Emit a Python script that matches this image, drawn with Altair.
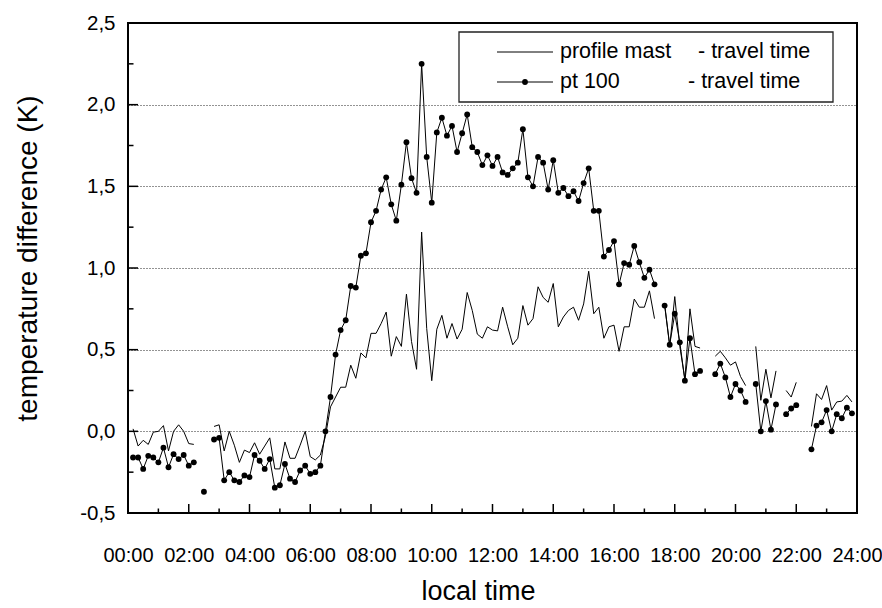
import altair as alt
import pandas as pd

# 10-minute samples, index 1..143 (minutes = index * 10); None marks a gap
pt100 = [
    -0.16, -0.16, -0.23, -0.15, -0.16, -0.19, -0.10, -0.22, -0.14, -0.17,
    -0.145, -0.21, -0.19, None, -0.37, None, -0.05, -0.04, -0.30, -0.25,
    -0.30, -0.31, -0.27, -0.28, -0.145, -0.18, -0.23, -0.17, -0.345, -0.33,
    -0.20, -0.29, -0.31, -0.24, -0.21, -0.26, -0.25, -0.21, 0.00, 0.21,
    0.47, 0.62, 0.68, 0.89, 0.88, 1.075, 1.09, 1.28, 1.35, 1.48,
    1.555, 1.39, 1.29, 1.51, 1.77, 1.55, 1.46, 2.25, 1.68, 1.40,
    1.83, 1.92, 1.81, 1.87, 1.71, 1.825, 1.94, 1.74, 1.71, 1.63,
    1.69, 1.625, 1.68, 1.585, 1.57, 1.61, 1.645, 1.85, 1.555, 1.50,
    1.68, 1.645, 1.48, 1.66, 1.46, 1.49, 1.44, 1.47, 1.41, 1.52,
    1.61, 1.35, 1.35, 1.07, 1.11, 1.165, 0.90, 1.03, 1.02, 1.135,
    1.035, 0.94, 0.99, 0.90, None, 0.77, 0.53, 0.72, 0.545, 0.31,
    0.57, 0.35, 0.37, None, None, 0.35, 0.415, 0.33, 0.21, 0.29,
    0.25, 0.18, None, 0.29, 0.00, 0.185, 0.01, 0.165, None, 0.105,
    0.14, 0.16, None, None, -0.11, 0.035, 0.055, 0.13, 0.00, 0.105,
    0.08, 0.145, 0.11,
]

mast = [
    0.015, -0.09, -0.055, -0.08, -0.005, 0.00, 0.035, -0.12, 0.00, 0.04,
    0.00, -0.075, -0.08, None, None, None, 0.03, 0.04, -0.12, 0.00,
    -0.085, -0.19, -0.115, -0.13, -0.07, -0.14, -0.09, -0.04, -0.23, -0.23,
    -0.065, -0.165, -0.165, -0.085, 0.00, -0.155, -0.175, -0.145, -0.03, 0.15,
    0.21, 0.27, 0.27, 0.405, 0.325, 0.48, 0.45, 0.60, 0.60, 0.66,
    0.73, 0.46, 0.58, 0.52, 0.84, 0.55, 0.38, 1.22, 0.63, 0.31,
    0.625, 0.71, 0.57, 0.66, 0.565, 0.625, 0.85, 0.74, 0.595, 0.57,
    0.64, 0.62, 0.615, 0.76, 0.64, 0.53, 0.57, 0.77, 0.65, 0.69,
    0.885, 0.82, 0.79, 0.905, 0.64, 0.70, 0.74, 0.76, 0.68, 0.78,
    0.98, 0.72, 0.76, 0.57, 0.64, 0.65, 0.49, 0.64, 0.64, 0.81,
    0.76, 0.76, 0.86, 0.69, None, 0.78, 0.52, 0.825, 0.52, 0.32,
    0.75, 0.52, 0.51, None, None, 0.46, 0.49, 0.45, 0.405, 0.425,
    0.335, 0.28, None, 0.52, 0.19, 0.38, 0.205, 0.37, None, 0.25,
    0.21, 0.30, None, None, 0.03, 0.23, 0.195, 0.28, 0.13, 0.18,
    0.185, 0.22, 0.18,
]

x_major = list(range(0, 1441, 120))
x_minor = list(range(60, 1441, 120))
y_major = [-0.5, 0.0, 0.5, 1.0, 1.5, 2.0, 2.5]
y_minor = [-0.25, 0.25, 0.75, 1.25, 1.75, 2.25]

FONT = "Liberation Sans"
W, H = 729, 490


def segments(values):
    """Rows for the non-missing samples, with a run id so gaps break the line."""
    rows, seg = [], 0
    for i, v in enumerate(values, start=1):
        if v is None:
            seg += 1
            continue
        rows.append({"t": i * 10, "v": v, "seg": seg})
    return pd.DataFrame(rows)


mast_df = segments(mast)
pt_df = segments(pt100)

x_scale = alt.Scale(domain=[0, 1440], nice=False, zero=False)
y_scale = alt.Scale(domain=[-0.5, 2.5], nice=False, zero=False)

x_axis = alt.Axis(
    values=x_major,
    labelExpr="(datum.value < 600 ? '0' : '') + floor(datum.value / 60) + ':00'",
    ticks=False, domain=False, grid=False,
    labelFontSize=20, labelFont=FONT, labelColor="black", labelPadding=32,
    labelFlush=False, labelOverlap=False,
    title="local time", titleFont=FONT, titleFontSize=27, titleFontWeight="normal",
    titleColor="black", titleX=350, titleY=65, titleBaseline="top", titleAlign="center",
)
y_axis = alt.Axis(
    values=y_major,
    labelExpr="(datum.value < 0 ? '-' : '') + replace(format(abs(datum.value), '.1f'), '.', ',')",
    ticks=False, domain=False, grid=True,
    gridDash=[1, 2], gridColor="black", gridWidth=1, gridOpacity=0.85,
    labelFontSize=20.5, labelFont=FONT, labelColor="black", labelPadding=13,
    labelFlush=False,
    title="temperature difference (K)", titleFont=FONT, titleFontSize=28,
    titleFontWeight="normal", titleColor="black", titleAngle=270,
    titleX=-100, titleY=235, titleAlign="center", titleBaseline="middle",
)

mast_line = alt.Chart(mast_df).mark_line(color="black", strokeWidth=1).encode(
    x=alt.X("t:Q", scale=x_scale, axis=x_axis),
    y=alt.Y("v:Q", scale=y_scale, axis=y_axis),
    detail="seg:N",
)
pt_line = alt.Chart(pt_df).mark_line(color="black", strokeWidth=1).encode(
    x="t:Q", y="v:Q", detail="seg:N",
)
pt_dots = alt.Chart(pt_df).mark_circle(color="black", size=34, opacity=1).encode(
    x="t:Q", y="v:Q",
)

# inward tick marks on the bottom and left edges
xt_major = alt.Chart(pd.DataFrame({"t": x_major})).mark_rule(color="black", strokeWidth=1.5).encode(
    x="t:Q", y=alt.value(H), y2=alt.value(H - 9))
xt_minor = alt.Chart(pd.DataFrame({"t": x_minor})).mark_rule(color="black", strokeWidth=1.5).encode(
    x="t:Q", y=alt.value(H), y2=alt.value(H - 4.5))
yt_major = alt.Chart(pd.DataFrame({"v": y_major})).mark_rule(color="black", strokeWidth=1.5).encode(
    y="v:Q", x=alt.value(0), x2=alt.value(10))
yt_minor = alt.Chart(pd.DataFrame({"v": y_minor})).mark_rule(color="black", strokeWidth=1.5).encode(
    y="v:Q", x=alt.value(0), x2=alt.value(5.5))

# legend box
one = pd.DataFrame({"k": [0]})
leg_box = alt.Chart(one).mark_rect(fill="white", stroke="#222", strokeWidth=1.3).encode(
    x=alt.value(331), x2=alt.value(705), y=alt.value(9), y2=alt.value(79))
leg_l1 = alt.Chart(one).mark_rule(color="black", strokeWidth=1).encode(
    x=alt.value(369), x2=alt.value(425), y=alt.value(29))
leg_l2 = alt.Chart(one).mark_rule(color="black", strokeWidth=1).encode(
    x=alt.value(369), x2=alt.value(425), y=alt.value(59))
leg_dot = alt.Chart(one).mark_circle(color="black", size=34, opacity=1).encode(
    x=alt.value(397), y=alt.value(59))


def leg_text(txt, x, y):
    return alt.Chart(one).mark_text(
        text=txt, font=FONT, fontSize=21.5, align="left", baseline="middle", color="black"
    ).encode(x=alt.value(x), y=alt.value(y))


chart = alt.layer(
    mast_line, pt_line, pt_dots,
    xt_major, xt_minor, yt_major, yt_minor,
    leg_box, leg_l1, leg_l2, leg_dot,
    leg_text("profile mast", 432, 29), leg_text("- travel time", 570, 29),
    leg_text("pt 100", 432, 59), leg_text("- travel time", 560, 59),
).properties(
    width=W, height=H,
    autosize=alt.AutoSizeParams(type="none"),
    padding={"left": 128, "top": 23, "right": 25, "bottom": 95},
    background="white",
).configure_view(stroke="black", strokeWidth=2)

chart.save("out.html", embed_options={"renderer": "svg", "actions": False})
